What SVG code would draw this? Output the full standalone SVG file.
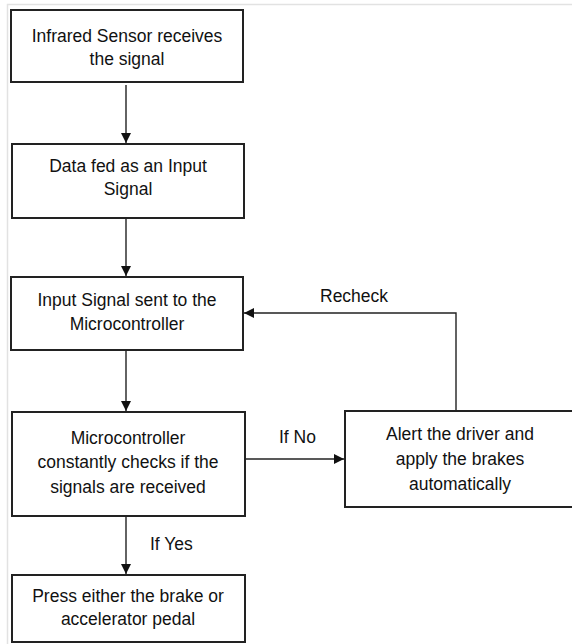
<svg xmlns="http://www.w3.org/2000/svg" width="572" height="644" viewBox="0 0 572 644">
<style>
.box{fill:#fff;stroke:#222;stroke-width:2}
.t{font-family:"Liberation Sans",Arial,sans-serif;font-size:17.5px;fill:#111;text-anchor:middle}
.lbl{font-family:"Liberation Sans",Arial,sans-serif;font-size:17.5px;fill:#111}
.c{fill:none;stroke:#222;stroke-width:1.4}
</style>
<defs>
<marker id="ah" markerWidth="10" markerHeight="10" refX="10" refY="5" orient="auto" markerUnits="userSpaceOnUse">
<path d="M0,0 L10,5 L0,10 Z" fill="#111"/>
</marker>
</defs>
<rect x="0" y="0" width="572" height="644" fill="#fff"/>
<path d="M7.5,644 V4.5 H572" fill="none" stroke="#e2e2e2" stroke-width="1.5"/>
<g id="n1"><rect class="box" x="11" y="10" width="232" height="72"/>
<text class="t" x="127" y="42">Infrared Sensor receives</text><text class="t" x="127" y="65">the signal</text></g>
<g id="n2"><rect class="box" x="12" y="144" width="232" height="74"/>
<text class="t" x="128" y="172">Data fed as an Input</text><text class="t" x="128" y="195">Signal</text></g>
<g id="n3"><rect class="box" x="11" y="277" width="232" height="73"/>
<text class="t" x="127" y="306">Input Signal sent to the</text><text class="t" x="127" y="330">Microcontroller</text></g>
<g id="n4"><rect class="box" x="12" y="412" width="233" height="104"/>
<text class="t" x="128" y="444">Microcontroller</text><text class="t" x="128" y="468">constantly checks if the</text><text class="t" x="128" y="493">signals are received</text></g>
<g id="n5"><rect class="box" x="12" y="575" width="233" height="67"/>
<text class="t" x="128" y="602">Press either the brake or</text><text class="t" x="128" y="625">accelerator pedal</text></g>
<g id="n6"><rect class="box" x="345" y="411" width="232" height="96"/>
<text class="t" x="460" y="440">Alert the driver and</text><text class="t" x="460" y="465">apply the brakes</text><text class="t" x="460" y="490">automatically</text></g>
<g id="connectors">
<path class="c" d="M126,85 V143" marker-end="url(#ah)"/>
<path class="c" d="M126,218 V276" marker-end="url(#ah)"/>
<path class="c" d="M126,350 V411" marker-end="url(#ah)"/>
<path class="c" d="M126,516 V574" marker-end="url(#ah)"/>
<path class="c" d="M245,459 H344" marker-end="url(#ah)"/>
<path class="c" d="M456,411 V313 H244" marker-end="url(#ah)"/>
<text class="lbl" x="320" y="302">Recheck</text>
<text class="lbl" x="279" y="443">If No</text>
<text class="lbl" x="150" y="550">If Yes</text>
</g>
</svg>
